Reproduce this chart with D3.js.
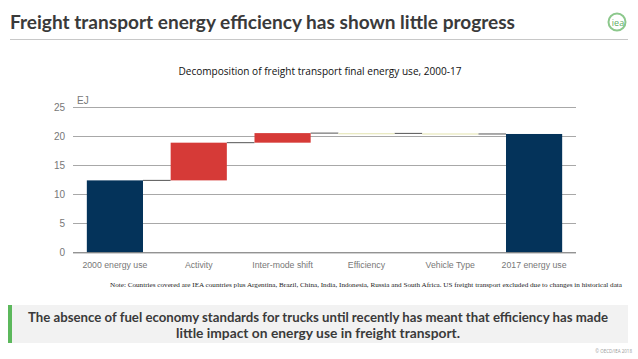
<!DOCTYPE html>
<html><head><meta charset="utf-8">
<script src="https://cdn.jsdelivr.net/npm/d3@7"></script>
<style>body{margin:0;background:#fff}svg{display:block}</style>
</head><body>
<svg id="c" width="638" height="359"></svg>
<script>
const categories = ["2000 energy use","Activity","Inter-mode shift","Efficiency","Vehicle Type","2017 energy use"];
const changes = [12.4, 6.5, 1.65, -0.05, -0.1, 20.4];
const kinds = ["total","up","up","down","down","total"];
const yTicks = [0,5,10,15,20,25];
const colors = {total:"#04335a", up:"#d63a37", down:"#e8e8bc"};

const svg = d3.select("#c");
// header
svg.append("text").attr("x",10).attr("y",29).attr("font-family","Lato, sans-serif").attr("font-weight","bold")
  .attr("font-size",19.5).attr("fill","#3a3a3a").attr("textLength",505).attr("lengthAdjust","spacingAndGlyphs")
  .text("Freight transport energy efficiency has shown little progress");
svg.append("line").attr("x1",10).attr("x2",628).attr("y1",39.5).attr("y2",39.5).attr("stroke","#c8c8c8").attr("stroke-width",1);
svg.append("circle").attr("cx",617).attr("cy",22).attr("r",8.5).attr("fill","none").attr("stroke","#8cc88c").attr("stroke-width",2);
svg.append("text").attr("x",618).attr("y",25.5).attr("text-anchor","middle").attr("font-family","Open Sans, sans-serif")
  .attr("font-size",9).attr("fill","#5fae5f").text("iea");

svg.append("text").attr("x",320).attr("y",75).attr("text-anchor","middle").attr("font-family","Open Sans, sans-serif")
  .attr("font-size",10.5).attr("fill","#111").attr("textLength",283).attr("lengthAdjust","spacingAndGlyphs")
  .text("Decomposition of freight transport final energy use, 2000-17");

const x = d3.scaleBand().domain(categories).range([73,576]).paddingInner(0.33).paddingOuter(0.165);
const y = d3.scaleLinear().domain([0,25]).range([252.3,107.3]);

// grid
svg.append("g").selectAll("line").data(yTicks.filter(d=>d>0)).join("line")
  .attr("x1",73).attr("x2",576).attr("y1",d=>Math.round(y(d))+0.5).attr("y2",d=>Math.round(y(d))+0.5)
  .attr("stroke","#a8a8a8").attr("stroke-width",1);
const yAxis = d3.axisLeft(y).tickValues(yTicks).tickSize(0).tickPadding(8);
const ya = svg.append("g").attr("transform","translate(73,0)").call(yAxis);
ya.select(".domain").remove();
ya.selectAll("text").attr("font-family","Liberation Sans, Arial, sans-serif").attr("font-size",10).attr("fill","#777");
svg.append("text").attr("x",77).attr("y",104).attr("font-family","Liberation Sans, Arial, sans-serif").attr("font-size",10).attr("fill","#777").text("EJ");

// waterfall
let cum = 0;
const bars = categories.map((c,i)=>{
  let lo, hi;
  if(kinds[i]==="total"){ lo=0; hi=changes[i]; cum=changes[i]; }
  else { const s=cum; cum=cum+changes[i]; lo=Math.min(s,cum); hi=Math.max(s,cum); }
  return {c, lo, hi, end:cum, kind:kinds[i]};
});
svg.selectAll("line.conn").data(bars.slice(0,-1)).join("line")
  .attr("x1",(d)=>x(d.c)+x.bandwidth()).attr("x2",(d,i)=>x(categories[i+1]))
  .attr("y1",d=>y(d.end)).attr("y2",d=>y(d.end))
  .attr("stroke","#555").attr("stroke-width",1);
svg.selectAll("rect.bar").data(bars).join("rect")
  .attr("x",d=>x(d.c)).attr("width",x.bandwidth())
  .attr("y",d=>y(d.hi)).attr("height",d=>Math.max(1.2,y(d.lo)-y(d.hi)))
  .attr("fill",d=>colors[d.kind]);

// x axis
const xa = svg.append("g").attr("transform","translate(0,252.3)").call(d3.axisBottom(x).tickSize(0).tickPadding(9));
xa.select(".domain").attr("stroke","#666").attr("d","M73,0.5H576");
xa.selectAll("text").attr("font-family","Liberation Sans, Arial, sans-serif").attr("font-size",9.5).attr("fill","#777")
  .attr("transform","scale(0.92,1)");

svg.append("text").attr("x",110).attr("y",287).attr("font-family","Liberation Serif, serif").attr("font-size",7).attr("fill","#222")
  .attr("textLength",512).attr("lengthAdjust","spacingAndGlyphs")
  .text("Note: Countries covered are IEA countries plus Argentina, Brazil, China, India, Indonesia, Russia and South Africa. US freight transport excluded due to changes in historical data");

// bottom box
svg.append("rect").attr("x",8).attr("y",305).attr("width",620).attr("height",38).attr("fill","#f2f2f2");
svg.append("rect").attr("x",8).attr("y",305).attr("width",4).attr("height",38).attr("fill","#5cb85c");
svg.append("text").attr("x",318).attr("y",322).attr("text-anchor","middle").attr("font-family","Lato, sans-serif")
  .attr("font-weight","bold").attr("font-size",12.5).attr("fill","#3a3a3a").attr("textLength",580).attr("lengthAdjust","spacingAndGlyphs")
  .text("The absence of fuel economy standards for trucks until recently has meant that efficiency has made");
svg.append("text").attr("x",318).attr("y",338).attr("text-anchor","middle").attr("font-family","Lato, sans-serif")
  .attr("font-weight","bold").attr("font-size",12.5).attr("fill","#3a3a3a").attr("textLength",284).attr("lengthAdjust","spacingAndGlyphs")
  .text("little impact on energy use in freight transport.");
svg.append("text").attr("x",632).attr("y",353).attr("text-anchor","end").attr("font-family","Open Sans, sans-serif")
  .attr("font-size",4.5).attr("fill","#999").text("© OECD/IEA 2018");
</script>
</body></html>
